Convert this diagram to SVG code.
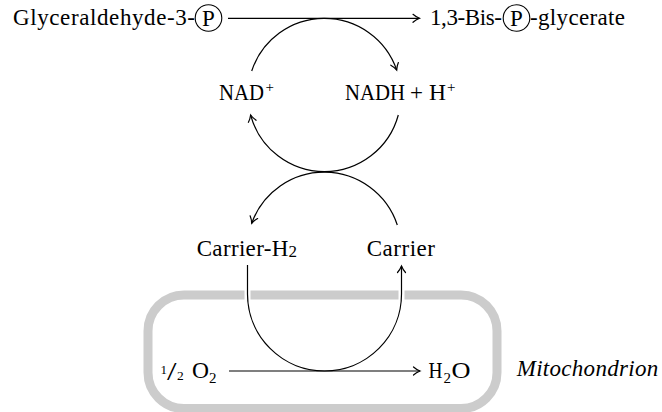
<svg xmlns="http://www.w3.org/2000/svg" width="662" height="412" viewBox="0 0 662 412">
  <style>
    .t { font-family: "Liberation Serif", "Times New Roman", serif; font-size: 23px; fill: #000; }
    .sup { font-size: 15px; }
    .sub { font-size: 15px; }
    .it { font-style: italic; }
    .ln { fill: none; stroke: #000; stroke-width: 1.2; }
    .halo { fill: none; stroke: #fff; stroke-width: 6; }
    .ph { fill: none; stroke: #000; stroke-width: 1.1; }
  </style>
  <defs>
    <marker id="ah" markerUnits="userSpaceOnUse" viewBox="-8 -6 12 12" markerWidth="12" markerHeight="12" refX="0" refY="0" orient="auto" overflow="visible">
      <path d="M -6.5 -4 C -4.5 -2.2 -1.5 -0.6 0 0 C -1.5 0.6 -4.5 2.2 -6.5 4" fill="none" stroke="#000" stroke-width="1.2" stroke-linecap="round"/>
    </marker>
  </defs>
  <rect width="662" height="412" fill="#fff"/>

  <g id="mitochondrion">
    <rect x="148" y="295" width="349" height="113.5" rx="36" ry="36" fill="none" stroke="#cccccc" stroke-width="9"/>
    <text class="t it" x="516.7" y="376" textLength="141.5">Mitochondrion</text>
  </g>

  <g id="connectors">
    <line class="ln" x1="228" y1="18.3" x2="419.5" y2="18.3" marker-end="url(#ah)"/>
    <path class="ln" d="M 251.7 71 A 76.5 76.5 0 0 1 396.7 70" marker-end="url(#ah)"/>
    <path class="ln" d="M 398.3 115 A 76.5 76.5 0 0 1 250.6 115" marker-end="url(#ah)"/>
    <path class="ln" d="M 397.3 225 A 77 77 0 0 0 251.7 223.3" marker-end="url(#ah)"/>
    <line class="halo" x1="247.5" y1="286" x2="247.5" y2="304"/>
    <line class="halo" x1="401.5" y1="286" x2="401.5" y2="304"/>
    <path class="ln" d="M 247.5 265 L 247.5 294 A 77 77 0 0 0 401.5 294 L 401.5 266" marker-end="url(#ah)"/>
    <line class="ln" x1="229" y1="371" x2="420" y2="371" marker-end="url(#ah)"/>
  </g>

  <g id="glyceraldehyde-3-p">
    <text class="t" x="13" y="25" textLength="182">Glyceraldehyde-3-</text>
    <circle class="ph" cx="208.5" cy="18" r="13.3"/>
    <text class="t" x="208.5" y="25.5" text-anchor="middle">P</text>
  </g>

  <g id="bisphosphoglycerate">
    <text class="t" x="430" y="25" textLength="72">1,3-Bis-</text>
    <circle class="ph" cx="516.5" cy="18" r="13.3"/>
    <text class="t" x="516.5" y="25.5" text-anchor="middle">P</text>
    <text class="t" x="530" y="25" textLength="95">-glycerate</text>
  </g>

  <g id="nad">
    <text class="t" x="219" y="100"><tspan textLength="45" lengthAdjust="spacingAndGlyphs">NAD</tspan><tspan class="sup" x="265.5" y="92">+</tspan></text>
  </g>

  <g id="nadh">
    <text class="t" x="345" y="100"><tspan textLength="60" lengthAdjust="spacingAndGlyphs">NADH</tspan><tspan x="410">+</tspan><tspan x="429" textLength="17" lengthAdjust="spacingAndGlyphs">H</tspan><tspan class="sup" x="447" y="92">+</tspan></text>
  </g>

  <g id="carrier-h2">
    <text class="t" x="196.7" y="255.5"><tspan textLength="91.6">Carrier-H</tspan><tspan x="288.6" y="257" style="font-size:17px">2</tspan></text>
  </g>

  <g id="carrier">
    <text class="t" x="366.7" y="255.5" textLength="68.3">Carrier</text>
  </g>

  <g id="o2">
    <text class="t" x="160.5" y="373.5"><tspan style="font-size:13px">1</tspan><tspan x="167" y="379.5" style="font-size:25px" textLength="9.5" lengthAdjust="spacingAndGlyphs">/</tspan><tspan x="177" y="380" style="font-size:13.5px">2</tspan><tspan x="192" y="378" textLength="17" lengthAdjust="spacingAndGlyphs">O</tspan><tspan class="sub" x="209" y="382.7">2</tspan></text>
  </g>

  <g id="h2o">
    <text class="t" x="428.5" y="378"><tspan textLength="14" lengthAdjust="spacingAndGlyphs">H</tspan><tspan class="sub" x="443.5" y="382.7">2</tspan><tspan x="451.5" y="378" textLength="19" lengthAdjust="spacingAndGlyphs">O</tspan></text>
  </g>
</svg>
